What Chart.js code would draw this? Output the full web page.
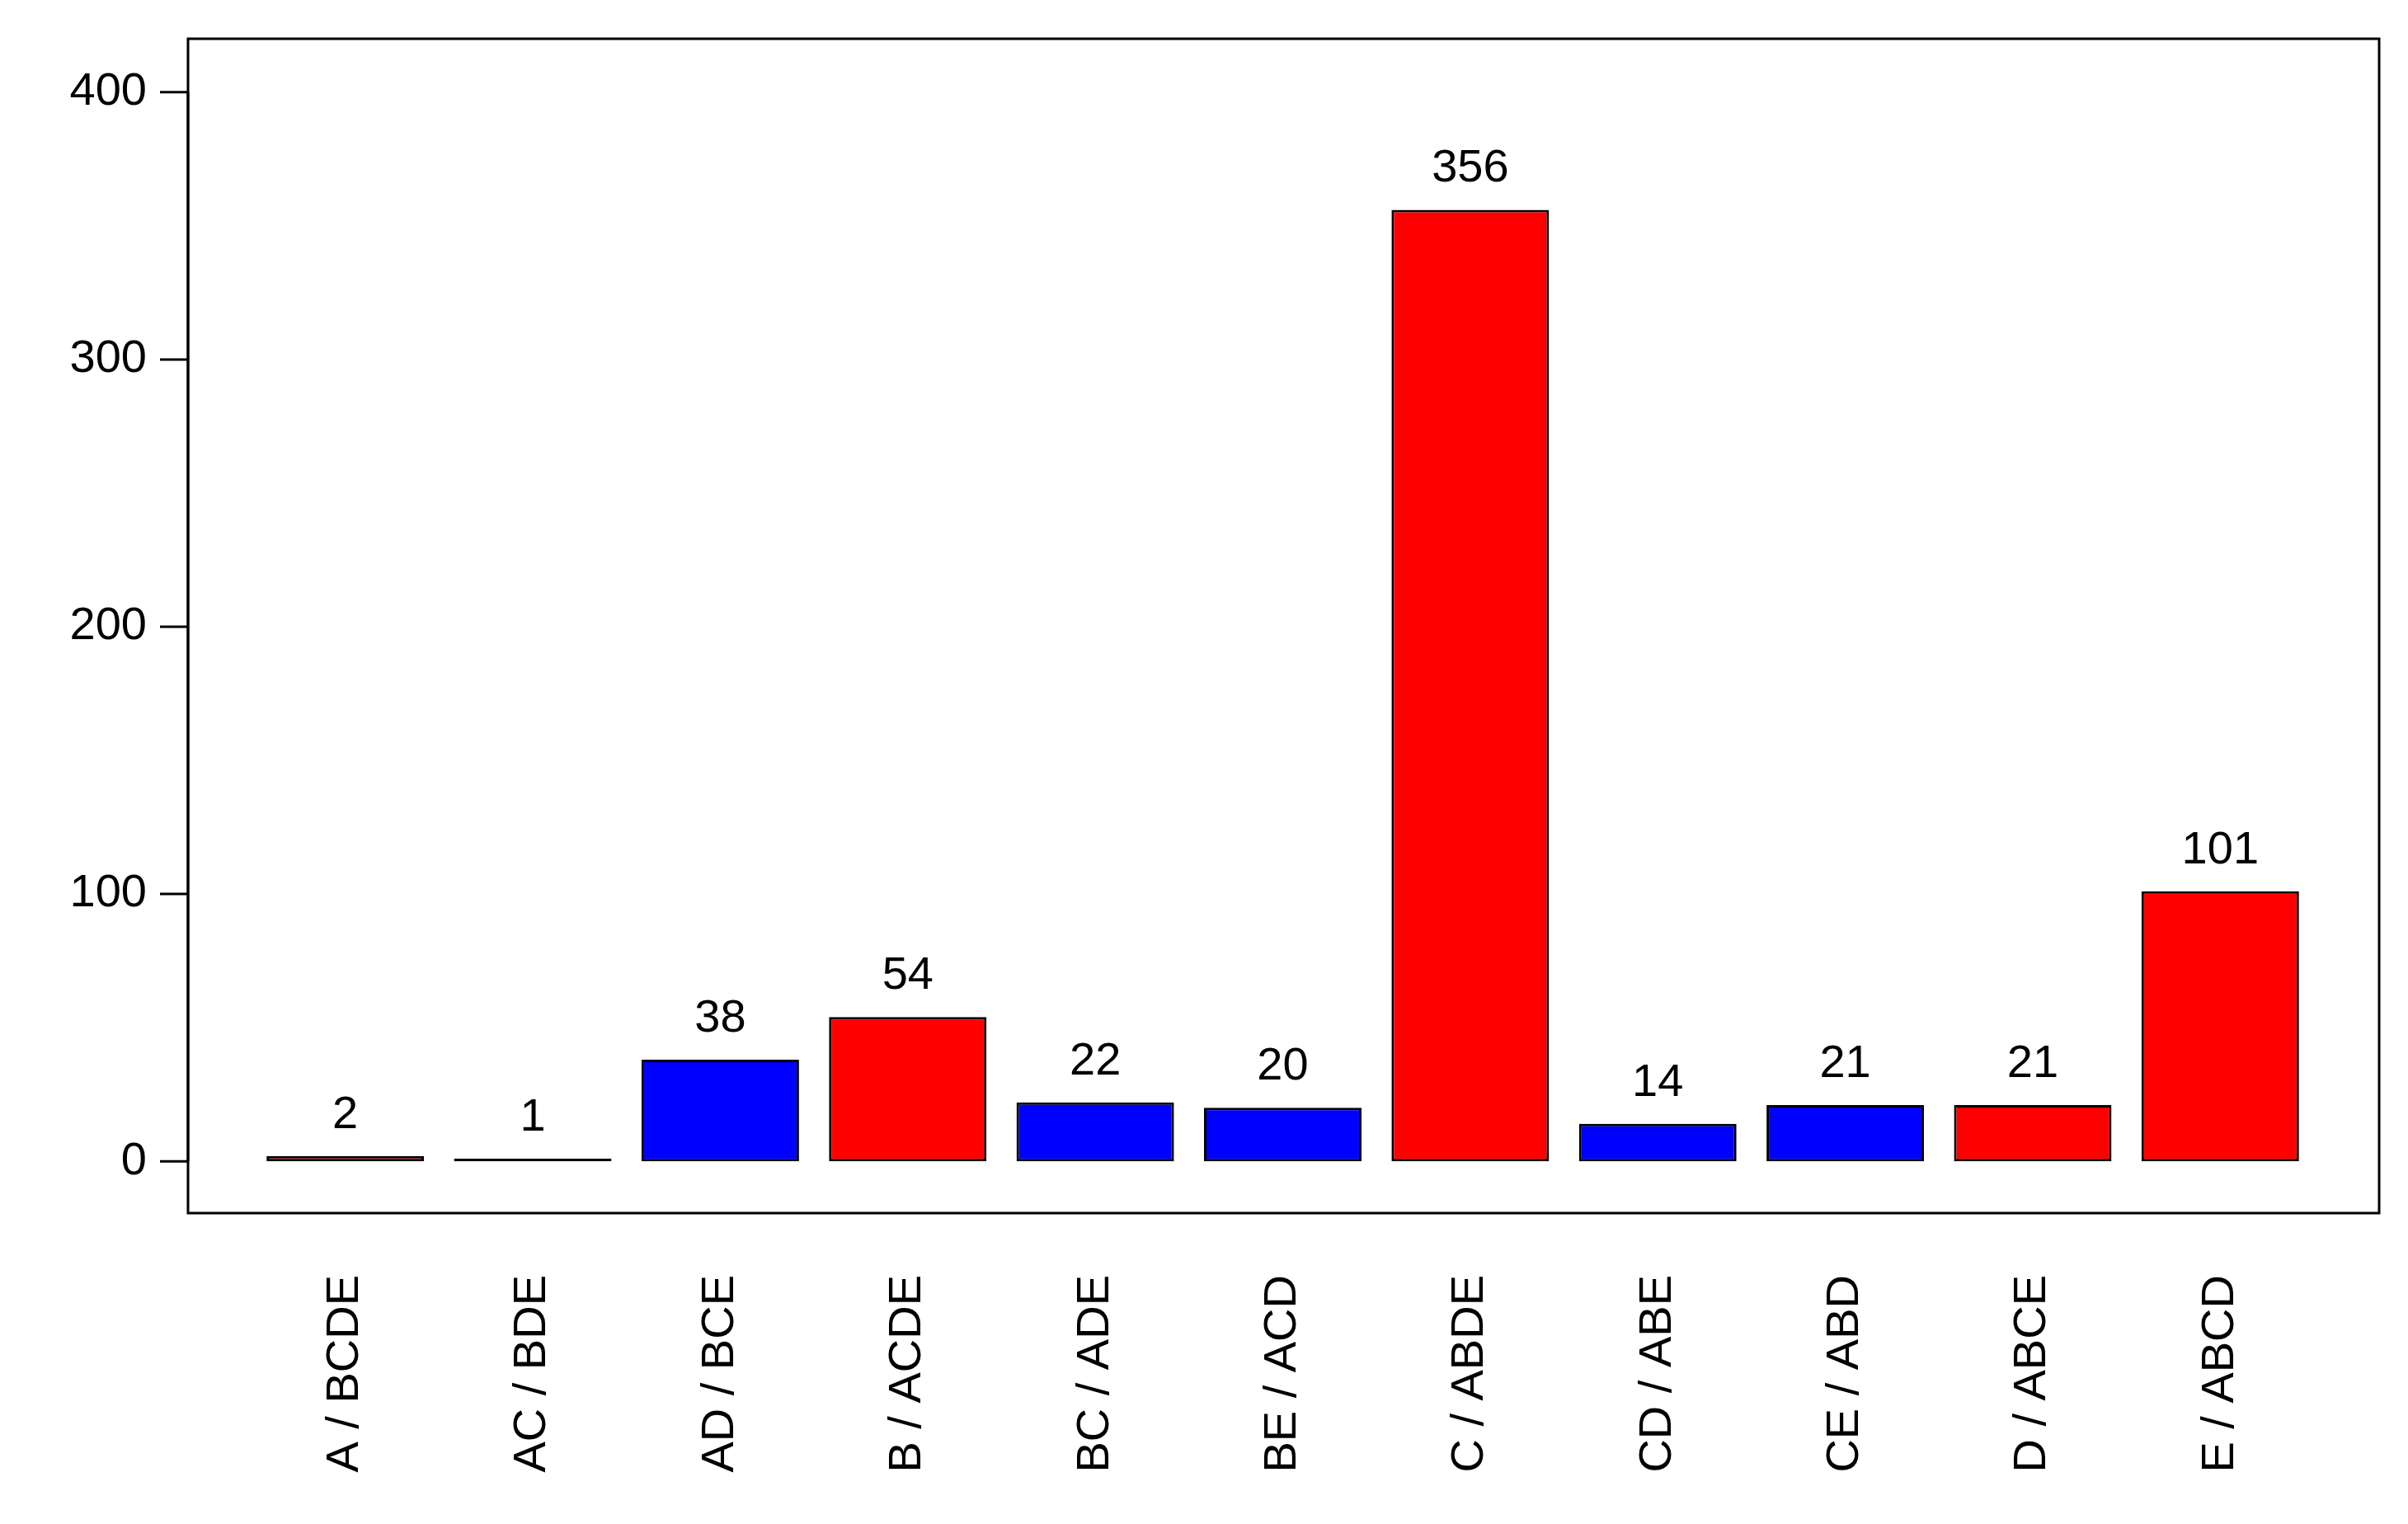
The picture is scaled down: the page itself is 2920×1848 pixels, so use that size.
<!DOCTYPE html>
<html><head><meta charset="utf-8">
<script src="https://cdn.jsdelivr.net/npm/chart.js@4"></script>
<style>html,body{margin:0;padding:0;background:#fff}#w{width:2920px;height:1848px}</style>
</head><body><div id="w"><canvas id="c"></canvas></div>
<script>
const categories = ["A / BCDE","AC / BDE","AD / BCE","B / ACDE","BC / ADE","BE / ACD","C / ABDE","CD / ABE","CE / ABD","D / ABCE","E / ABCD"];
const values = [2,1,38,54,22,20,356,14,21,21,101];
const barColors = ["#ff0000","#0000ff","#0000ff","#ff0000","#0000ff","#0000ff","#ff0000","#0000ff","#0000ff","#ff0000","#ff0000"];
const yTicks = [0,100,200,300,400];
const FONT = '"Liberation Sans", Arial, sans-serif';
const BOX = {left:228, right:2885};
const deco = {
  id:'deco',
  afterDraw(chart){
    const ctx = chart.ctx, ca = chart.chartArea, y = chart.scales.y, x = chart.scales.x;
    ctx.save();
    ctx.strokeStyle='#000'; ctx.lineWidth=3;
    ctx.strokeRect(BOX.left, ca.top, BOX.right-BOX.left, ca.bottom-ca.top);
    ctx.beginPath();
    ctx.moveTo(BOX.left, y.getPixelForValue(yTicks[0]));
    ctx.lineTo(BOX.left, y.getPixelForValue(yTicks[yTicks.length-1]));
    yTicks.forEach(t=>{const p=y.getPixelForValue(t); ctx.moveTo(BOX.left,p); ctx.lineTo(BOX.left-34,p);});
    ctx.stroke();
    ctx.fillStyle='#000'; ctx.font='56px '+FONT;
    ctx.textAlign='right'; ctx.textBaseline='middle';
    yTicks.forEach(t=>ctx.fillText(String(t), BOX.left-50, y.getPixelForValue(t)));
    ctx.textAlign='center'; ctx.textBaseline='alphabetic';
    values.forEach((v,i)=>ctx.fillText(String(v), x.getPixelForValue(i), y.getPixelForValue(v)-34));
    ctx.restore();
  }
};
new Chart(document.getElementById('c'),{
  type:'bar',
  data:{labels:categories,datasets:[{data:values,backgroundColor:barColors,borderColor:'#000',borderWidth:3,borderSkipped:false,barPercentage:0.84,categoryPercentage:1}]},
  options:{
    responsive:true,maintainAspectRatio:false,animation:false,devicePixelRatio:1,
    layout:{padding:{left:305,right:114,top:47,bottom:0}},
    plugins:{legend:{display:false},tooltip:{enabled:false}},
    scales:{
      x:{grid:{display:false,drawTicks:false},border:{display:false},
         ticks:{color:'#000',font:{size:56,family:FONT},minRotation:90,maxRotation:90,padding:75,autoSkip:false},
         afterFit(s){s.height=377;}},
      y:{display:false,min:-19.4,max:420}
    }
  },
  plugins:[deco]
});
</script></body></html>
